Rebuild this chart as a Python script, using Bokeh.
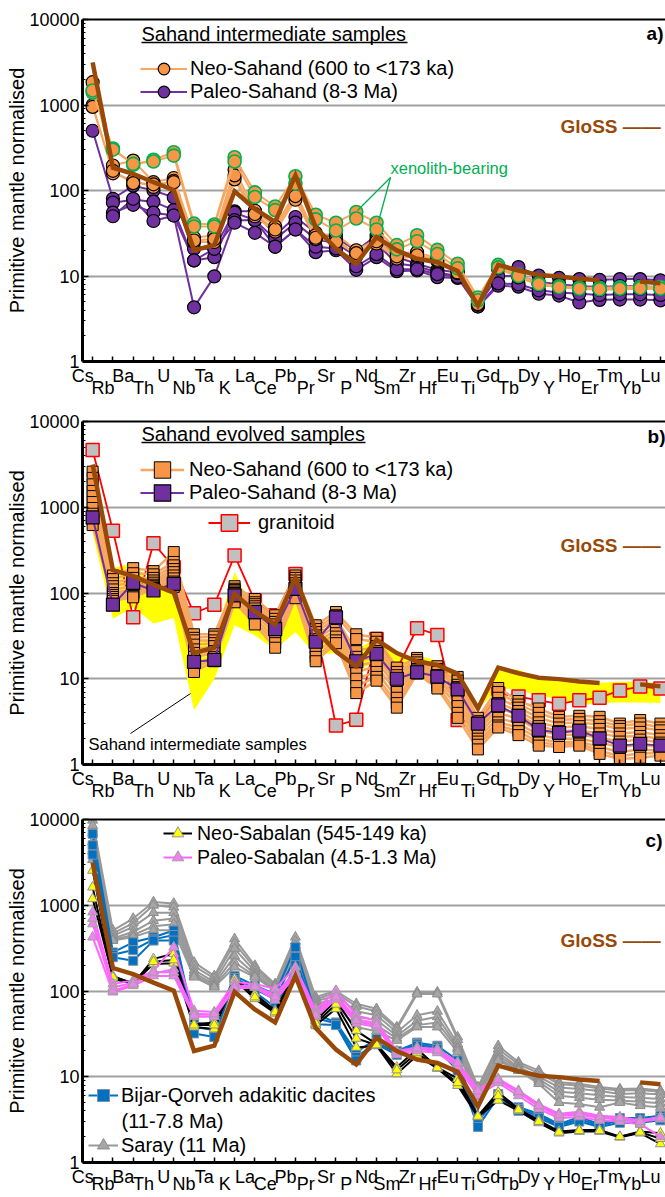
import math
from bokeh.plotting import figure
from bokeh.models import (Range1d, FixedTicker, LinearAxis, Label, Legend, LegendItem,
                          BoxAnnotation, Arrow, NumeralTickFormatter)
from bokeh.layouts import column
from bokeh.embed import file_html
from bokeh.resources import INLINE

NAN = float("nan")
FONT = "Liberation Sans"

# ---------------- data ----------------
elements = ["Cs", "Rb", "Ba", "Th", "U", "Nb", "Ta", "K", "La", "Ce", "Pb", "Pr", "Sr", "P", "Nd",
            "Sm", "Zr", "Hf", "Eu", "Ti", "Gd", "Tb", "Dy", "Y", "Ho", "Er", "Tm", "Yb", "Lu"]
y_ticks = [1, 10, 100, 1000, 10000]

gloss = [3150, 185, 157, 125, 101, 20, 23, 98, 61, 43, 150, 37, 20.8, 13.9, 28.5, 19.9, 15.9, 14.5,
         11.4, 4.5, 13.5, 11.6, 10.3, 9.9, 9.3, 8.9, NAN, 8.6, 8.2]

# panel a : Sahand intermediate samples
a_neo_xenolith = [
    [1400, 310, 200, 229, 280, 41, 40, 245, 95, 65, 147, 52, 42, 56, 42, 23, 30, 20.2, 13.9, 5.6, 13.5, 10.4, 8.2, 7.6, 7.3, 7.3, 7.4, 7.5, 7.5],
    [1480, 300, 205, 218, 256, 38, 38, 218, 84, 59, 120, 46, 34, 47, 35, 20.5, 25.5, 18.1, 12.3, 5.2, 12.6, 10.0, 8.0, 7.4, 7.1, 7.0, 7.1, 7.2, 7.1],
]
a_neo = [
    [1850, 196, 224, 125, 140, 28, 30, 175, 58, 38, 95, 30, 31, 20, 27, 18.5, 19, 16, 11.5, 4.8, 13, 10, 8.1, 7.6, 7.3, 7.0, 7.2, 7.3, 7.3],
    [1000, 159, 131, 110, 130, 25, 25, 135, 50, 33, 78, 27, 27, 17.4, 24, 16, 17, 15, 10.8, 4.6, 12.3, 9.6, 7.9, 7.4, 7.1, 6.9, 7.0, 7.1, 7.1],
    [950, 170, 122, 118, 125, 26, 27, 150, 53, 35, 86, 28, 25, 18.5, 25.5, 17, 17.5, 15.5, 11, 4.7, 12.6, 9.8, 8.0, 7.5, 7.2, 6.95, 7.1, 7.2, 7.2],
]
a_paleo = [
    [500, 80, 114, 100, 83, 20.8, 20.8, 57, 57, 30, 49, 32, 28, 19.8, 29.7, 16.6, 13.9, 11.8, 11, 4.6, 12, 12.7, 10.1, 9.5, 9.2, 9.0, 9.2, 9.2, 8.9],
    [NAN, 72, 78, 74, 59, 15.2, 16.6, 55, 45, 27, 42, 27, 24, 17, 24, 14, 13, 11, 10, 4.5, 10, 10, 8.5, 8.0, 7.6, 7.5, 7.6, 7.6, 7.4],
    [NAN, 55, 68, 55, 51, 4.3, 9.9, 45, 45, 22, 35, 19, 20, 11.8, 16.6, 11.4, 11.6, 9.7, 9.5, 4.4, 7.7, 7.5, 6.2, 5.9, 4.9, 5.26, 5.3, 5.3, 5.2],
    [NAN, 50, 80, 44, 51, 15.2, 20.8, 42, 32, 22, 35, 22, 21, 13, 18, 12, 12, 10.5, 9.8, 4.4, 8.2, 8.0, 6.8, 6.4, 6.2, 6.0, 6.1, 6.1, 6.0],
]

# panel b : Sahand evolved samples
b_band_upper = [1850, 196, 224, 125, 140, 28, 30, 175, 58, 38, 95, 32, 31, 22, 29.7, 18.5, 19, 16, 11.5, 4.8, 13, 12.7, 10.1, 9.5, 9.2, 9.0, 9.2, 9.2, 8.9]
b_band_lower = [500, 50, 68, 44, 51, 4.3, 9.9, 42, 32, 22, 35, 19, 20, 11.8, 16.6, 11.4, 11.6, 9.7, 9.5, 4.4, 7.7, 7.5, 6.2, 5.9, 4.9, 5.26, 5.3, 5.3, 5.2]
b_neo = [
    [2600, 160, 195, 180, 300, 33, 33, 120, 85, 55, 160, 42, 60, 33, 30, 13.5, 17.5, 14, 10.5, 3.5, 7.8, 5.5, 4.5, 3.6, 3.7, 3.6, 3.0, 3.3, 3.0],
    [2200, 145, 170, 165, 230, 30, 31, 112, 78, 50, 150, 38, 55, 29, 27, 12, 16.5, 13, 9.5, 3.2, 7.0, 5.0, 4.0, 3.3, 3.4, 3.2, 2.8, 3.0, 2.7],
    [1850, 130, 150, 150, 210, 28, 28, 108, 74, 46, 140, 35, 50, 21, 24, 11, 15.5, 12.5, 8.5, 2.9, 6.0, 4.6, 3.5, 3.0, 3.1, 2.9, 2.6, 2.7, 2.5],
    [1550, 120, 135, 140, 190, 25, 26, 104, 70, 43, 130, 32, 45, 18, 21, 10, 14.5, 12, 8, 2.6, 5.2, 4.2, 3.1, 2.7, 2.8, 2.6, 2.3, 2.4, 2.2],
    [1350, 110, 120, 132, 175, 22, 24, 100, 66, 40, 122, 29, 41, 16, 18, 9, 14, 11, 7, 2.4, 4.6, 3.8, 2.8, 2.45, 2.5, 2.3, 2.1, 2.15, 2.0],
    [1150, 100, 110, 125, 160, 20, 21, 95, 62, 36, 112, 26, 37, 14, 16, 8, 13, 10.5, 6, 2.2, 4.0, 3.4, 2.5, 2.2, 2.25, 2.05, 1.85, 1.95, 1.8],
    [980, 95, 102, 120, 148, 18, 20, 90, 57, 33, 105, 23, 34, 12, 14, 7, 12.5, 9.8, 5.5, 2.0, 3.5, 3.0, 2.2, 2.0, 2.0, 1.8, 1.6, 1.7, 1.6],
    [840, 90, 96, 116, 136, 15, 18, 85, 52, 29, 98, 20, 31, 10, 12, 6, 12, 9, 4.8, 1.85, 3.1, 2.7, 2.0, 1.8, 1.85, 1.6, 1.4, 1.5, 1.45],
    [720, 85, 92, 114, 125, 13.5, 17, 81, 47, 26, 92, 18, 28, 8.2, 10.5, 5.2, 11.7, 8.3, 4.0, 1.7, 2.85, 2.45, 1.8, 1.7, 1.75, 1.45, 1.25, 1.35, 1.35],
    [620, 81, 89, 112, 118, 12, 16, 78, 43, 23, 87, 16, 26, 6.8, 9.5, 4.6, 11.5, 7.7, 3.5, 1.5, 2.7, 2.2, 1.66, 1.6, 1.66, 1.33, 1.16, 1.2, 1.27],
]
b_paleo = [
    [760, 73, 131, 107, 128, 15.7, 16.6, 94, 60, 38, 112, 27, 52, 16, 19.5, 10, 11.9, 10.6, 7.5, 3.0, 4.9, 3.7, 2.54, 2.34, 2.49, 2.02, 1.66, 1.74, 1.66],
]
b_granitoid = [4650, 533, 52, 380, 200, 58, 73, 273, 81, 55, 167, 40, 2.85, 3.32, 29, 12.8, 38.8, 32.4,
               3.3, 3.0, 6.7, 6.2, 5.6, 5.1, 5.6, 6.0, 7.3, 8.1, 7.7]

# panel c : Sabalan and comparison suites
c_saray = [
    [9800, 510, 700, 1090, 1050, 216, 150, 405, 198, 121, 424, 85, 100, 71, 62, 38, 97, 97, 29, 7.6, 23, 14.8, 11.8, 8.6, 8.3, 7.6, 7.2, 7.3, 6.9],
    [8500, 470, 620, 1000, 950, 195, 140, 360, 185, 116, 380, 80, 95, 66, 58, 36, 92, 92, 27, 7.2, 21, 14, 11, 8.2, 7.9, 7.3, 6.9, 7.0, 6.7],
    [7000, 440, 560, 820, 820, 175, 128, 310, 170, 112, 340, 76, 88, 58, 52, 33, 52, 58, 24, 6.6, 19, 13, 10, 7.5, 7.2, 6.8, 6.3, 6.4, 6.2],
    [5500, 410, 490, 660, 700, 162, 120, 255, 158, 106, 300, 71, 80, 50, 46, 30, 45, 50, 22, 6.2, 17.5, 12.5, 9.3, 6.7, 6.4, 6.1, 5.8, 5.7, 5.5],
    [4300, 395, 450, 570, 600, 152, 115, 215, 150, 103, 260, 68, 75, 44, 40, 28, 40, 43, 21, 6.0, 16.3, 12, 8.7, 6.0, 5.7, 5.4, 5.3, 5.1, 4.9],
    [3400, 387, 425, 510, 510, 145, 111, 190, 145, 101, 230, 65, 70, 38, 34, 26.5, 38, 38, 19.5, 5.8, 15.5, 11.8, 8.3, 5.0, 4.8, 4.4, 5.0, 4.6, 4.4],
]
c_bijar = [
    [6800, 282, 370, 424, 508, 43, 40, 150, 116, 92, 324, 54, 43, 19.4, 27.6, 20, 25, 23, 15.5, 3.4, 6.3, 4.4, 3.7, 2.8, 3.4, 2.8, 3.3, 3.3, 3.5],
    [5000, 265, 300, 400, 450, 38, 35, 142, 105, 80, 250, 48, 42, 17, 25, 19, 24, 22, 13.5, 3.0, 6.0, 4.2, 3.5, 2.7, 3.2, 2.7, 3.1, 3.1, 3.3],
    [3900, 248, 225, 387, 387, 32, 29, 133, 97, 65, 200, 41, 40, 15.5, 24, 18, 23, 21, 11.8, 2.6, 5.8, 4.0, 3.3, 2.6, 3.0, 2.6, 2.9, 2.9, 3.1],
]
c_neo = [
    [2550, 150, 121, 237, 272, 41, 43, 139, 92, 59, 170, 45, 78, 34.5, 24, 12.9, 21, 12.9, 9.5, 3.5, 6.6, 4.2, 3.1, 2.3, 2.4, 2.4, 2.0, 2.3, 2.2],
    [1625, 139, 121, 207, 211, 38, 36, 135, 81, 55, 160, 40, 62, 22, 23, 10.8, 17.7, 12.5, 7.9, 3.4, 5.3, 4.0, 2.9, 2.2, 2.3, 2.3, 1.97, 2.2, 1.65],
    [1190, 145, 125, 220, 230, 40, 40, 137, 85, 57, 150, 42, 70, 28, 23.5, 12, 19, 12.7, 8.5, 3.45, 6.0, 4.1, 3.0, 2.25, 2.35, 2.35, 2.0, 2.25, 1.9],
]
c_paleo = [
    [830, 121, 133, 172, 324, 59, 57, 127, 121, 106, 190, 60, 101, 52, 45, 20, 22, 21, 14.8, 7.2, 9.5, 6.9, 4.8, 3.7, 3.9, 3.5, 3.4, 3.1, 3.4],
    [605, 110, 125, 160, 180, 55, 52, 115, 115, 90, 170, 55, 90, 47, 42, 19, 21, 20, 14, 6.5, 9.0, 6.5, 4.5, 3.5, 3.6, 3.3, 3.2, 3.0, 3.2],
    [424, 97, 115, 150, 150, 50, 50, 106, 110, 78, 150, 50, 80, 42, 38, 18, 20, 19, 13, 6.0, 8.5, 6.0, 4.2, 3.3, 3.4, 3.1, 3.0, 2.8, 2.0],
    [700, 100, 120, 165, 165, 52, 54, 110, 112, 85, 160, 52, 85, 45, 40, 19.5, 21.5, 20.5, 14.5, 6.8, 9.2, 6.7, 4.6, 3.6, 3.7, 3.4, 3.3, 3.0, 3.3],
]

# ---------------- styling ----------------
ORANGE_FILL = "#F79646"
ORANGE_LINE = "#F7A760"
PURPLE = "#7030A0"
GREEN = "#00B050"
BROWN = "#984807"
GRID = "#A0A0A0"

idx = list(range(len(elements)))
FRAME_LEFT = 82
X0, X1 = -0.5, 28.25
LABEL_SHIFT = 0.49   # category names sit a little left of their tick


def series_xy(rows):
    xs, ys = [], []
    for r in rows:
        pts = [(i, v) for i, v in enumerate(r) if not math.isnan(v)]
        xs.append([i for i, _ in pts])
        ys.append([v for _, v in pts])
    return xs, ys


def add_group(p, rows, line_color, line_width, marker, size, fill, outline, outline_width=1.0):
    xs, ys = series_xy(rows)
    lr = p.multi_line(xs=xs, ys=ys, line_color=line_color, line_width=line_width, line_join="round")
    fx = [x for xx in xs for x in xx]
    fy = [y for yy in ys for y in yy]
    sr = p.scatter(x=fx, y=fy, marker=marker, size=size, fill_color=fill,
                   line_color=outline, line_width=outline_width)
    return lr, sr


def style_label_axis(ax):
    ax.major_label_text_font = FONT
    ax.major_label_text_font_size = "18px"
    ax.major_label_text_color = "black"
    ax.major_tick_line_color = None
    ax.major_tick_in = 0
    ax.major_tick_out = 0


def make_fig(height, top, bottom, s_even, s_odd):
    p = figure(width=665, height=height, y_axis_type="log",
               x_range=Range1d(X0, X1), y_range=Range1d(1, 10000),
               output_backend="svg", toolbar_location=None,
               min_border_left=FRAME_LEFT, min_border_right=0,
               min_border_top=top, min_border_bottom=bottom)
    p.extra_x_ranges = {"lab": Range1d(X0 + LABEL_SHIFT, X1 + LABEL_SHIFT)}
    p.outline_line_color = None
    p.xgrid.visible = False
    p.ygrid.ticker = FixedTicker(ticks=[10, 100, 1000])
    p.ygrid.grid_line_color = GRID
    p.ygrid.grid_line_width = 2

    even = [i for i in idx if i % 2 == 0]
    odd = [i for i in idx if i % 2 == 1]

    # first row of element names + tick marks at every element
    xa = p.xaxis[0]
    xa.x_range_name = "lab"
    xa.ticker = FixedTicker(ticks=even, minor_ticks=[i + LABEL_SHIFT for i in idx])
    xa.major_label_overrides = {i: elements[i] for i in even}
    style_label_axis(xa)
    xa.major_label_standoff = s_even
    xa.minor_tick_in = 5
    xa.minor_tick_out = 0
    xa.minor_tick_line_width = 1.5
    xa.minor_tick_line_color = "black"
    xa.axis_line_width = 3

    # second (staggered) row of element names
    xb = LinearAxis(x_range_name="lab", ticker=FixedTicker(ticks=odd),
                    major_label_overrides={i: elements[i] for i in odd},
                    axis_line_color=None, minor_tick_line_color=None)
    style_label_axis(xb)
    xb.major_label_standoff = s_odd
    p.add_layout(xb, "below")

    ya = p.yaxis[0]
    minors = [m * d for d in [1, 10, 100, 1000] for m in range(2, 10)]
    ya.ticker = FixedTicker(ticks=y_ticks, minor_ticks=minors)
    ya.formatter = NumeralTickFormatter(format="0")
    ya.major_label_text_font = FONT
    ya.major_label_text_font_size = "18px"
    ya.major_label_text_color = "black"
    ya.major_label_standoff = 3
    ya.major_tick_in = 6
    ya.major_tick_out = 0
    ya.minor_tick_in = 3
    ya.minor_tick_out = 0
    ya.major_tick_line_width = 1.5
    ya.axis_line_width = 3
    ya.axis_label = "Primitive mantle normalised"
    ya.axis_label_text_font = FONT
    ya.axis_label_text_font_size = "20px"
    ya.axis_label_text_font_style = "normal"
    ya.axis_label_text_color = "black"
    ya.axis_label_standoff = -2

    top_axis = LinearAxis(ticker=FixedTicker(ticks=[]), axis_line_width=2,
                          major_tick_line_color=None, minor_tick_line_color=None,
                          major_tick_out=0, major_label_standoff=0)
    p.add_layout(top_axis, "above")
    return p


def txt(p, fb, px, py, s, size="20px", color="black", bold=False, align="left"):
    p.add_layout(Label(x=px - FRAME_LEFT, y=fb - py, x_units="screen", y_units="screen", text=s,
                       text_font=FONT, text_font_size=size, text_color=color,
                       text_font_style="bold" if bold else "normal",
                       text_align=align, text_baseline="middle"))


def underline(p, fb, x0, x1, py):
    p.add_layout(BoxAnnotation(left=x0 - FRAME_LEFT, right=x1 - FRAME_LEFT, bottom=fb - py - 0.75,
                               top=fb - py + 0.75, left_units="screen", right_units="screen",
                               bottom_units="screen", top_units="screen", fill_color="black",
                               fill_alpha=1, line_alpha=0))


def seg(p, fb, x0, y0, x1, y1, color, width):
    p.add_layout(Arrow(end=None, x_start=x0 - FRAME_LEFT, y_start=fb - y0, x_end=x1 - FRAME_LEFT,
                       y_end=fb - y1, start_units="screen", end_units="screen",
                       line_color=color, line_width=width))


def legend_row(p, fb, label, renderers, gx, row_y, gw, gh, standoff, size="20px"):
    # one legend per row so that the glyph size and row pitch can be set independently
    p.add_layout(Legend(items=[LegendItem(label=label, renderers=renderers)],
                        location=(gx - FRAME_LEFT, fb - (row_y + gh / 2)),
                        orientation="vertical", glyph_width=gw, glyph_height=gh,
                        padding=0, margin=0, spacing=0, label_standoff=standoff,
                        label_text_font=FONT, label_text_font_size=size,
                        label_text_color="black", border_line_alpha=0,
                        background_fill_alpha=0))


def gloss_line(p):
    p.line(idx, gloss, line_color=BROWN, line_width=4.5, line_join="miter")


# ---------------- panel a (page y 0-401) ----------------
TOP_A = 0
FB_A = 361 - TOP_A
pa = make_fig(401, 19, 40, 4, -11)
lp, sp = add_group(pa, a_paleo, PURPLE, 2, "circle", 13, PURPLE, "black", 1.2)
ln, sn = add_group(pa, a_neo, ORANGE_LINE, 2, "circle", 13, ORANGE_FILL, "black", 1.2)
lx, sx = add_group(pa, a_neo_xenolith, ORANGE_LINE, 2, "circle", 13, ORANGE_FILL, GREEN, 1.6)
gloss_line(pa)
txt(pa, FB_A, 141, 33, "Sahand intermediate samples")
underline(pa, FB_A, 141, 407, 42)
txt(pa, FB_A, 663, 33, "a)", size="19px", bold=True, align="right")
txt(pa, FB_A, 560, 126, "GloSS \u2014\u2014", size="19px", color=BROWN, bold=True)
txt(pa, FB_A, 390, 167, "xenolith-bearing", size="16.5px", color=GREEN)
seg(pa, FB_A, 390, 177, 357, 210, GREEN, 1.3)
seg(pa, FB_A, 390, 177, 378, 221, GREEN, 1.3)
legend_row(pa, FB_A, "Neo-Sahand (600 to <173 ka)", [ln, sn], 140, 68, 47, 29, 3)
legend_row(pa, FB_A, "Paleo-Sahand (8-3 Ma)", [lp, sp], 140, 91, 47, 29, 3)

# ---------------- panel b (page y 401-804) ----------------
TOP_B = 401
FB_B = 764 - TOP_B
pb = make_fig(403, 20, 40, 4, -11)
pb.varea(x=idx, y1=b_band_lower, y2=b_band_upper, fill_color="#FFFF00")
lg, sg = add_group(pb, [b_granitoid], "#FF0000", 1.8, "square", 13, "#C0C0C0", "#FF0000", 1.5)
lbn, sbn = add_group(pb, b_neo, ORANGE_LINE, 2.5, "square", 11, ORANGE_FILL, "black", 1.0)
lbp, sbp = add_group(pb, b_paleo, PURPLE, 2, "square", 13, PURPLE, "black", 1.2)
gloss_line(pb)
txt(pb, FB_B, 141, 433 - TOP_B, "Sahand evolved samples")
underline(pb, FB_B, 141, 365, 442 - TOP_B)
txt(pb, FB_B, 665, 436 - TOP_B, "b)", size="19px", bold=True, align="right")
txt(pb, FB_B, 560, 545 - TOP_B, "GloSS \u2014\u2014", size="19px", color=BROWN, bold=True)
txt(pb, FB_B, 88, 743 - TOP_B, "Sahand intermediate samples", size="16.5px")
seg(pb, FB_B, 130, 733 - TOP_B, 190, 693 - TOP_B, "black", 1)
legend_row(pb, FB_B, "Neo-Sahand (600 to <173 ka)", [lbn, sbn], 140, 469 - TOP_B, 44, 41, 5)
legend_row(pb, FB_B, "Paleo-Sahand (8-3 Ma)", [lbp, sbp], 140, 492 - TOP_B, 44, 41, 5)
legend_row(pb, FB_B, "granitoid", [lg, sg], 208, 522 - TOP_B, 42, 41, 8)

# ---------------- panel c (page y 804-1197) ----------------
TOP_C = 804
FB_C = 1162 - TOP_C
pc = make_fig(393, 15, 35, 4, -16)
lsa, ssa = add_group(pc, c_saray, "#999999", 2, "triangle", 10, "#A6A6A6", "#8C8C8C", 1)
lbi, sbi = add_group(pc, c_bijar, "#0070C0", 2, "square", 9, "#0070C0", "#7F8FA6", 1)
lne, sne = add_group(pc, c_neo, "black", 2, "triangle", 10, "#FFFF00", "#909090", 1)
lpa, spa = add_group(pc, c_paleo, "#FF66FF", 2, "triangle", 10, "#EE82EE", "#A0A0A0", 1)
gloss_line(pc)
txt(pc, FB_C, 662, 840 - TOP_C, "c)", size="19px", bold=True, align="right")
txt(pc, FB_C, 560, 940 - TOP_C, "GloSS \u2014\u2014", size="19px", color=BROWN, bold=True)
txt(pc, FB_C, 121, 1120 - TOP_C, "(11-7.8 Ma)")
legend_row(pc, FB_C, "Neo-Sabalan (545-149 ka)", [lne, sne], 163, 833 - TOP_C, 29, 30, 5, size="19.5px")
legend_row(pc, FB_C, "Paleo-Sabalan (4.5-1.3 Ma)", [lpa, spa], 163, 857 - TOP_C, 29, 30, 5, size="19.5px")
legend_row(pc, FB_C, "Bijar-Qorveh adakitic dacites", [lbi, sbi], 88, 1095 - TOP_C, 30, 30, 3)
legend_row(pc, FB_C, "Saray (11 Ma)", [lsa, ssa], 88, 1145 - TOP_C, 30, 30, 3)

layout = column(pa, pb, pc, spacing=0)
open("out.html", "w").write(file_html(layout, INLINE))
